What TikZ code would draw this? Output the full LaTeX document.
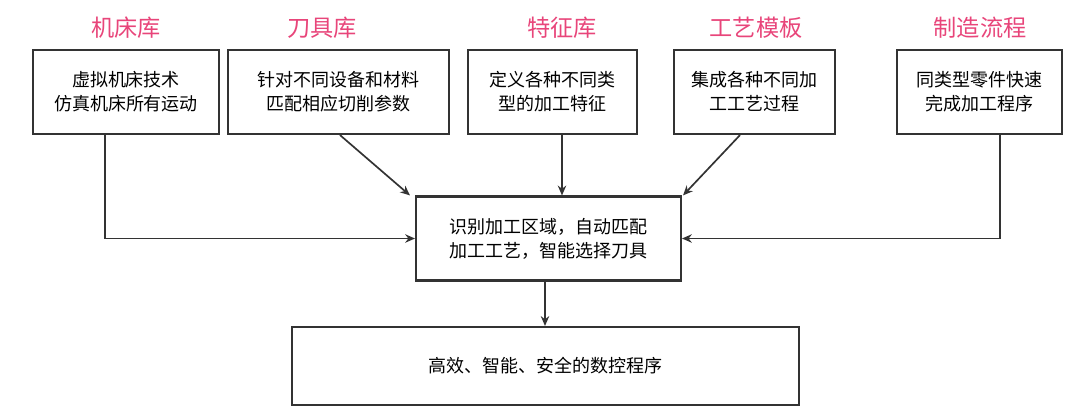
\documentclass[tikz,border=0pt]{standalone}
\usepackage{fontspec}
\setmainfont{Noto Sans CJK SC}
\usetikzlibrary{positioning}
\usetikzlibrary{arrows.meta}
\definecolor{titlepink}{HTML}{E8457A}
\definecolor{linegray}{HTML}{333333}

\begin{document}
\begin{tikzpicture}[
  x=0.025cm, y=-0.025cm,
  font=\fontsize{12.8}{17}\selectfont,
  box/.style={draw=linegray, line width=1.5pt, minimum height=2.1cm, align=center, inner sep=2pt},
  title/.style={text=titlepink, font=\fontsize{16.5}{19}\selectfont},
  arr/.style={-{Stealth[length=7pt,width=6pt]}, line width=1.2pt, draw=linegray}
]
\useasboundingbox (0,0) rectangle (1080,417);

% library boxes
\node[box, minimum width=4.65cm] (machine) at (126,92) {虚拟机床技术\\仿真机床所有运动};
\node[box, minimum width=5.52cm] (tool) at (338.5,92) {针对不同设备和材料\\匹配相应切削参数};
\node[box, minimum width=4.22cm] (feature) at (552.5,92) {定义各种不同类\\型的加工特征};
\node[box, minimum width=4.02cm] (process) at (754.5,92) {集成各种不同加\\工工艺过程};
\node[box, minimum width=4.12cm] (flow) at (979.5,92) {同类型零件快速\\完成加工程序};

% titles
\node[title] (t1) at (126,28) {机床库};
\node[title] (t2) at (322,28) {刀具库};
\node[title] (t3) at (562,28) {特征库};
\node[title] (t4) at (756,28) {工艺模板};
\node[title] (t5) at (980,28) {制造流程};

% center and result
\node[box, minimum width=6.62cm] (center) at (548.5,238.5) {识别加工区域，自动匹配\\加工工艺，智能选择刀具};
\node[box, minimum width=12.67cm, minimum height=1.95cm] (result) at (545.5,366) {高效、智能、安全的数控程序};

% connectors
\draw[arr] (machine.south -| 105,0) |- (center.west);
\draw[arr] (flow.south -| 1000,0) |- (center.east);
\draw[arr] (tool.south -| 340,0) -- (center.north -| 410,0);
\draw[arr] (feature.south -| 562,0) -- (center.north -| 562,0);
\draw[arr] (process.south -| 740,0) -- (center.north -| 683,0);
\draw[arr] (center.south -| 545,0) -- (result.north -| 545,0);
\end{tikzpicture}
\end{document}
